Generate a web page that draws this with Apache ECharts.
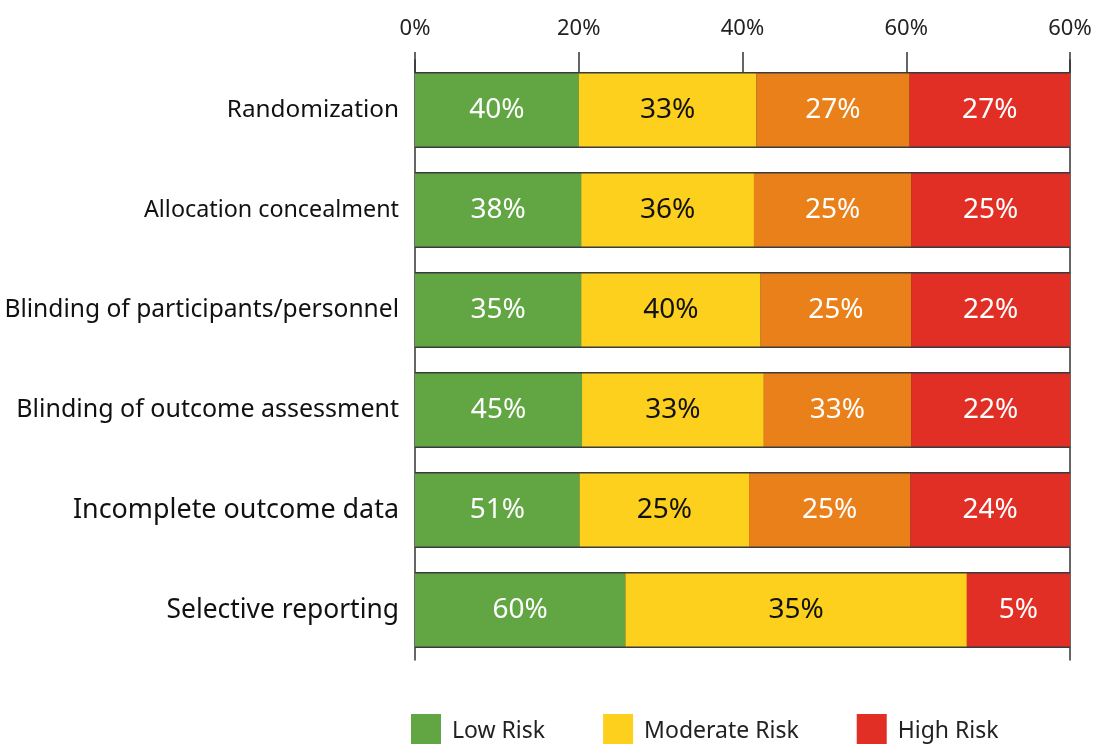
<!DOCTYPE html>
<html>
<head>
<meta charset="utf-8">
<script src="https://cdn.jsdelivr.net/npm/echarts@6/dist/echarts.min.js"></script>
<style>
	html, body { margin: 0; padding: 0; background: #fff; }
	#chart { width: 1095px; height: 744px; }
</style>
</head>
<body>
<div id="chart"></div>
<script>
// rows, top to bottom
var categories = ['Randomization', 'Allocation concealment', 'Blinding of participants/personnel',
	'Blinding of outcome assessment', 'Incomplete outcome data', 'Selective reporting'];

// segment lengths as drawn (axis units, 0..80)
var lowWidth = [20.0, 20.3, 20.3, 20.4, 20.1, 25.7];
var moderateWidth = [21.7, 21.1, 21.9, 22.2, 20.7, 41.7];
var unclearWidth = [18.7, 19.2, 18.4, 18.0, 19.7, '-'];
var highWidth = [19.6, 19.4, 19.4, 19.4, 19.5, 12.6];

// percentages printed on the segments
var lowText = [40, 38, 35, 45, 51, 60];
var moderateText = [33, 36, 40, 33, 25, 35];
var unclearText = [27, 25, 25, 33, 25, null];
var highText = [27, 25, 22, 22, 24, 5];

// top axis tick labels
var tickLabels = ['0%', '20%', '40%', '60%', '60%'];

var FONT = 'Noto Sans';
// the row labels are not all set at the same size in the original
var rowFontSize = [24.3, 23.3, 24.6, 25, 26.9, 26.4];

// thin dark frame behind each row = row total
var frameWidth = categories.map(function (c, i) {
	var s = 0;
	[lowWidth, moderateWidth, unclearWidth, highWidth].forEach(function (arr) {
		if (typeof arr[i] === 'number') s += arr[i];
	});
	return s;
});

function segLabel(texts, color) {
	return {
		show: true,
		position: 'inside',
		color: color,
		fontFamily: FONT,
		fontSize: 28,
		formatter: function (p) {
			var t = texts[p.dataIndex];
			return t == null ? '' : t + '%';
		}
	};
}

function segment(name, data, texts, color, textColor) {
	return {
		name: name,
		type: 'bar',
		stack: 'risk',
		yAxisIndex: 0,
		barWidth: 73,
		data: data,
		z: 3,
		itemStyle: { color: color },
		label: segLabel(texts, textColor),
		emphasis: { disabled: true }
	};
}

var mainChart = echarts.init(document.getElementById('chart'));

mainChart.setOption({
	animation: false,
	backgroundColor: '#ffffff',
	grid: {
		left: 415,
		right: 25,
		top: 60,
		height: 600
	},
	legend: {
		data: ['Low Risk', 'Moderate Risk', 'High Risk'],
		left: 406,
		top: 709,
		icon: 'rect',
		itemWidth: 30,
		itemHeight: 34,
		itemGap: 58,
		textStyle: {
			fontFamily: FONT,
			fontSize: 23,
			color: '#222',
			padding: [0, 0, 0, 6]
		}
	},
	xAxis: {
		type: 'value',
		position: 'top',
		offset: -13,
		min: 0,
		max: 80,
		interval: 20,
		axisLine: { show: false },
		axisTick: {
			show: true,
			length: 21,
			lineStyle: { color: '#333', width: 1.5 }
		},
		splitLine: { show: false },
		axisLabel: {
			margin: 33,
			color: '#222',
			fontFamily: FONT,
			fontSize: 22,
			formatter: function (v) {
				return tickLabels[Math.round(v / 20)];
			}
		}
	},
	yAxis: [{
		type: 'category',
		data: categories.map(function (c, i) {
			return { value: c, textStyle: { fontSize: rowFontSize[i] } };
		}),
		inverse: true,
		axisLine: { show: true, lineStyle: { color: '#333', width: 1.5 } },
		axisTick: { show: false },
		axisLabel: {
			margin: 16,
			color: '#111',
			fontFamily: FONT,
			fontSize: 24
		}
	}, {
		type: 'category',
		data: categories,
		inverse: true,
		position: 'right',
		axisLine: { show: true, lineStyle: { color: '#333', width: 1.5 } },
		axisTick: { show: false },
		axisLabel: { show: false }
	}],
	series: [{
		name: 'frame',
		type: 'bar',
		yAxisIndex: 1,
		barWidth: 76,
		data: frameWidth,
		z: 1,
		silent: true,
		itemStyle: { color: '#3b3b3b' }
	},
		segment('Low Risk', lowWidth, lowText, '#61a643', '#ffffff'),
		segment('Moderate Risk', moderateWidth, moderateText, '#fcd01c', '#111111'),
		segment('Unclear Risk', unclearWidth, unclearText, '#ea8019', '#ffffff'),
		segment('High Risk', highWidth, highText, '#e12f26', '#ffffff')
	]
});
</script>
</body>
</html>
